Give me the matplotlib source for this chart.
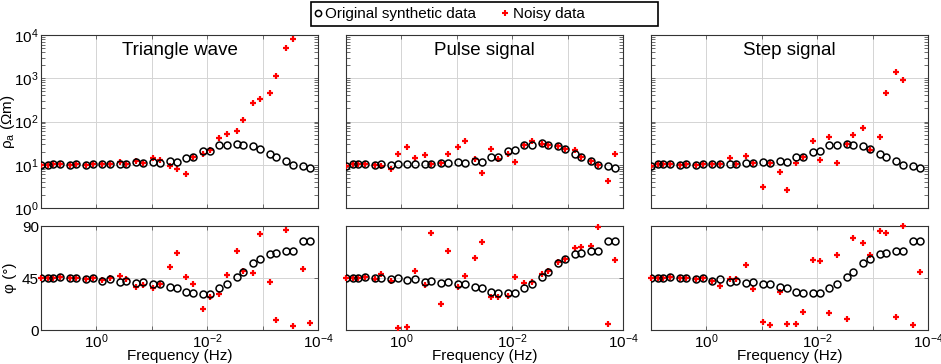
import numpy as np
import matplotlib
matplotlib.use("Agg")
import matplotlib.pyplot as plt
from matplotlib.ticker import FixedLocator, NullFormatter, LogLocator
from matplotlib.lines import Line2D
from matplotlib.patches import Rectangle

plt.rcParams['font.family'] = ['Liberation Sans', 'DejaVu Sans']
plt.rcParams['mathtext.default'] = 'regular'

# frequencies (log10 Hz)
log_freq = [1.0, 0.88, 0.78, 0.66, 0.48, 0.36, 0.19, 0.06, -0.11, -0.24,
            -0.42, -0.54, -0.72, -0.84, -1.02, -1.15, -1.32, -1.45, -1.62, -1.75,
            -1.93, -2.05, -2.22, -2.35, -2.53, -2.65, -2.83, -2.95, -3.13, -3.25,
            -3.43, -3.55, -3.73, -3.85]
freq = 10 ** np.array(log_freq)
nan = np.nan

titles = ["Triangle wave", "Pulse signal", "Step signal"]

# log10 apparent resistivity, original synthetic data
rho_orig = [
    [1.0, 1.0, 1.02, 1.02, 1.0, 1.02, 1.0, 1.01, 1.01, 1.01, 1.02, 1.02, 1.06, 1.04, 1.06, 1.04, 1.09,
     1.07, 1.16, 1.18, 1.31, 1.32, 1.46, 1.46, 1.49, 1.45, 1.43, 1.37, 1.26, 1.18, 1.08, 1.0, 0.96, 0.93],
    [0.98, 1.01, 1.02, 1.02, 1.0, 1.02, 1.0, 1.02, 1.01, 1.01, 1.02, 1.02, 1.05, 1.04, 1.07, 1.05, 1.08,
     1.07, 1.17, 1.19, 1.31, 1.33, 1.45, 1.45, 1.5, 1.45, 1.43, 1.37, 1.26, 1.18, 1.08, 0.99, 0.96, 0.93],
    [0.98, 1.01, 1.02, 1.02, 1.0, 1.02, 1.0, 1.01, 1.01, 1.01, 1.02, 1.02, 1.05, 1.05, 1.07, 1.05, 1.08,
     1.07, 1.17, 1.18, 1.3, 1.32, 1.46, 1.46, 1.49, 1.45, 1.43, 1.37, 1.26, 1.18, 1.08, 0.99, 0.96, 0.93],
]
# log10 apparent resistivity, noisy data
rho_noisy = [
    [1.0, 1.0, 1.02, 1.02, 1.0, 1.02, 1.0, 1.01, 1.01, 1.01, 1.06, 1.02, 1.09, 1.04, 1.15, 1.12, 0.96,
     0.9, 0.79, 1.19, 1.25, 1.33, 1.62, 1.72, 1.78, 2.04, 2.42, 2.52, 2.65, 3.05, 3.71, 3.91, nan, nan],
    [0.98, 1.01, 1.02, 1.02, 1.0, 0.96, 0.9, 1.25, 1.42, 1.15, 1.22, 1.02, 1.05, 1.25, 1.42, 1.54, 1.14,
     0.81, 1.37, 1.13, 1.25, 1.07, 1.46, 1.54, 1.48, 1.45, 1.44, 1.37, 1.35, 1.18, 1.08, 0.99, 0.62, 1.25],
    [0.98, 1.01, 1.02, 1.02, 1.0, 1.02, 1.0, 1.01, 1.01, 1.01, 1.15, 1.02, 1.21, 1.05, 0.48, 1.05, 0.84,
     0.42, 1.05, 1.17, 1.56, 1.1, 1.65, 1.05, 1.49, 1.68, 1.86, 1.33, 1.65, 2.65, 3.14, 2.95, nan, nan],
]

# phase (degrees), original synthetic data
phi_orig = [
    [45.3, 45.3, 45.3, 45.6, 44.7, 45.3, 44.4, 45.0, 42.7, 43.8, 41.3, 42.4, 40.4, 41.5, 40.1, 40.1, 37.5,
     36.1, 32.6, 31.7, 31.4, 31.4, 36.6, 40.1, 46.2, 50.5, 58.3, 61.4, 66.1, 66.6, 68.4, 68.1, 77.0, 77.0],
    [45.3, 45.3, 45.3, 45.6, 44.7, 45.3, 43.8, 45.0, 43.0, 43.8, 41.3, 42.7, 40.4, 41.3, 40.1, 40.1, 37.5,
     36.1, 32.6, 31.7, 31.7, 31.7, 36.6, 40.1, 46.2, 50.5, 58.3, 61.7, 66.1, 66.9, 68.7, 68.1, 77.0, 77.0],
    [45.3, 45.3, 45.3, 45.6, 44.7, 45.3, 44.4, 45.0, 42.7, 44.1, 41.3, 42.7, 40.4, 41.3, 40.1, 40.1, 37.5,
     36.1, 32.6, 31.7, 31.7, 31.7, 36.6, 40.1, 46.2, 50.5, 58.3, 61.4, 66.1, 66.9, 68.4, 68.1, 77.0, 77.0],
]
# phase (degrees), noisy data
phi_noisy = [
    [45.3, 45.3, 45.3, 45.6, 44.7, 45.3, 44.4, 45.0, 43.0, 44.6, 46.7, 44.1, 37.2, 39.2, 36.1, 40.1, 54.8,
     66.3, 46.2, 39.5, 18.5, 28.8, 31.2, 47.9, 68.1, 51.3, 49.0, 83.1, 41.3, 8.4, 86.5, 3.5, 52.5, 6.3],
    [45.3, 45.3, 45.3, 45.6, 43.8, 48.2, 42.1, 2.0, 2.9, 51.0, 38.9, 83.7, 22.5, 68.1, 36.9, 47.0, 62.0,
     76.2, 28.3, 28.3, 29.4, 45.6, 40.4, 41.8, 48.5, 51.3, 58.8, 61.2, 71.3, 71.5, 72.7, 89.4, 4.9, 60.6],
    [45.3, 45.3, 45.3, 45.6, 44.7, 45.3, 44.4, 45.0, 42.7, 38.1, 44.1, 43.8, 56.3, 35.2, 6.9, 4.0, 32.9,
     5.2, 5.5, 15.9, 60.3, 60.0, 14.4, 64.6, 9.2, 79.3, 75.0, 64.9, 86.0, 83.7, 11.5, 90.0, 4.3, 49.9],
]

W, H = 941, 364
fig = plt.figure(figsize=(W / 100, H / 100), dpi=100)
lefts = [41 / W, 346 / W, 651 / W]
w = 277 / W
grid_kw = dict(color='#d4d4d4', linewidth=0.7)
fs = 11

for i in range(3):
    ax1 = fig.add_axes([lefts[i], 1 - 208 / H, w, 173 / H])
    ax2 = fig.add_axes([lefts[i], 1 - 330 / H, w, 104 / H])

    ax1.plot(freq, 10 ** np.array(rho_noisy[i]), '+', color='red', ms=5, mew=1.6, zorder=3)
    ax1.plot(freq, 10 ** np.array(rho_orig[i]), 'o', mfc='none', mec='black', ms=5, mew=1.1, zorder=4)
    ax2.plot(freq, phi_noisy[i], '+', color='red', ms=5, mew=1.6, zorder=3, clip_on=False)
    ax2.plot(freq, phi_orig[i], 'o', mfc='none', mec='black', ms=5, mew=1.1, zorder=4)

    for ax in (ax1, ax2):
        ax.set_xscale('log')
        ax.set_xlim(10 ** 1, 10 ** -4)
        ax.xaxis.set_major_locator(FixedLocator([1, 1e-2, 1e-4]))
        ax.xaxis.set_minor_locator(FixedLocator([1e-1, 1e-3]))
        ax.xaxis.set_minor_formatter(NullFormatter())
        ax.grid(True, which='both', axis='x', **grid_kw)
        ax.grid(True, which='major', axis='y', **grid_kw)
        ax.set_axisbelow(True)
        ax.tick_params(direction='in', which='both', top=True, right=True,
                       labelsize=fs, length=3, width=0.6, color='#555555', pad=1.5)
        for s in ax.spines.values():
            s.set_linewidth(0.8)
            s.set_color('#333333')

    ax1.set_yscale('log')
    ax1.set_ylim(1, 1e4)
    ax1.yaxis.set_major_locator(LogLocator(base=10, numticks=10))
    ax1.yaxis.set_minor_locator(LogLocator(base=10, subs=np.arange(2, 10), numticks=10))
    ax1.yaxis.set_minor_formatter(NullFormatter())
    ax1.tick_params(axis='x', labelbottom=False)
    ax1.text(0.5, 0.96, titles[i], transform=ax1.transAxes, ha='center', va='top', fontsize=13.5)

    ax2.set_ylim(0, 90)
    ax2.set_yticks([0, 45, 90])
    ax2.set_xlabel('Frequency (Hz)', fontsize=fs, labelpad=-1)

    if i == 0:
        ax1.set_ylabel(r'$\rho_a$ ($\Omega$m)', fontsize=fs)
        ax2.set_ylabel('φ (°)', fontsize=fs)
        ax1.yaxis.set_label_coords(-0.085, 0.5)
        ax2.yaxis.set_label_coords(-0.085, 0.5)
    else:
        ax1.tick_params(axis='y', labelleft=False)
        ax2.tick_params(axis='y', labelleft=False)

# legend: entries on the left of a wider box, as in the source figure
handles = [Line2D([], [], ls='none', marker='o', mfc='none', mec='black', ms=4.5, mew=1.1),
           Line2D([], [], ls='none', marker='+', color='red', ms=4.5, mew=1.5)]
fig.legend(handles, ['Original synthetic data', 'Noisy data'], loc='center left',
           bbox_to_anchor=(313 / W, 1 - 14 / H), ncol=2, fontsize=fs, frameon=False,
           handlelength=0.6, handletextpad=0.2, columnspacing=1.6, borderpad=0.0,
           borderaxespad=0.0)
fig.patches.append(Rectangle((311 / W, 1 - 26 / H), 347 / W, 24 / H, transform=fig.transFigure,
                             fill=False, edgecolor='black', linewidth=1.2))

fig.savefig('out.png', dpi=100)
